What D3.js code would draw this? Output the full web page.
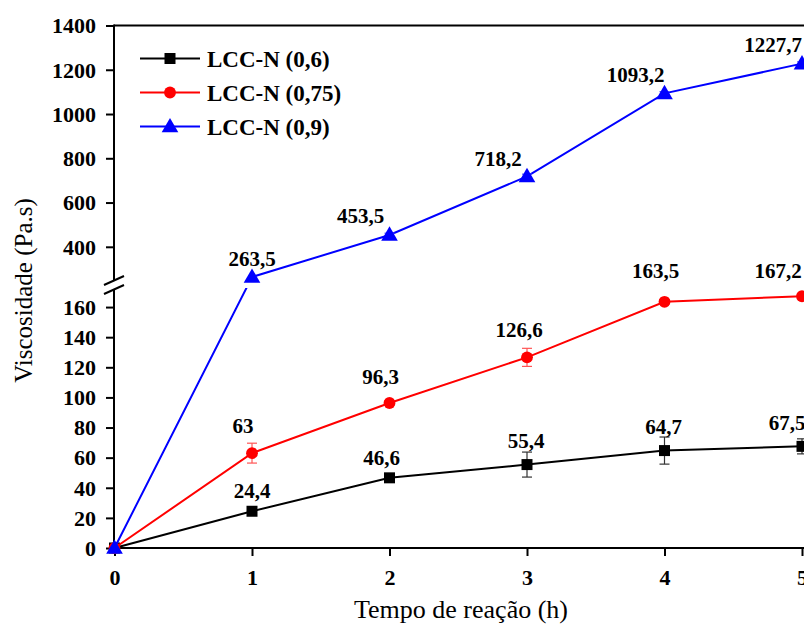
<!DOCTYPE html>
<html>
<head>
<meta charset="utf-8">
<script src="https://cdn.jsdelivr.net/npm/d3@7"></script>
<style>
  html, body { margin: 0; padding: 0; background: #fff; }
  svg { display: block; }
  text { font-family: "Liberation Serif", "Times New Roman", serif; }
</style>
</head>
<body>
<svg id="chart" width="804" height="634"></svg>
<script>
// Reaction time (h)
const hours = [0, 1, 2, 3, 4, 5];
// Viscosity (Pa.s) for each formulation
const seriesNames = ["LCC-N (0,6)", "LCC-N (0,75)", "LCC-N (0,9)"];
const visc06  = [0, 24.4, 46.6, 55.4, 64.7, 67.5];
const visc075 = [0, 63, 96.3, 126.6, 163.5, 167.2];
const visc09  = [0, 263.5, 453.5, 718.2, 1093.2, 1227.7];
// Standard deviations
const err06  = [0, 1, 1.5, 8.3, 9, 5];
const err075 = [0, 6.6, 1.5, 6, 1.5, 1.5];
const err09  = [0, 0, 8, 10, 8, 8];
// Axis ticks
const xTicks = [0, 1, 2, 3, 4, 5];
const yTicksLow = [0, 20, 40, 60, 80, 100, 120, 140, 160];
const yTicksHigh = [400, 600, 800, 1000, 1200, 1400];

// Label nudges [dx, dy above marker] per point
const labelNudge = [
  [[0, 0], [0, 13], [-8, 13], [-1, 17], [-1, 17], [-15, 16]],
  [[0, 0], [-9, 20], [-9, 19], [-8, 20], [-9, 24], [-24, 18]],
  [[0, 0], [0, 11], [-29, 12], [-29, 10], [-29, 11], [-29, 12]]
];

const fmt = v => String(v).replace(".", ",");

const svg = d3.select("#chart");

const x = d3.scaleLinear().domain([0, 5]).range([114.5, 802]);
// Broken y axis: lower and upper segments
const yLow = d3.scaleLinear().domain([0, 172]).range([548, 289]);
const yHigh = d3.scaleLinear().domain([250, 1400]).range([280, 25.5]);
const y = v => (v <= 172 ? yLow(v) : yHigh(v));

const colors = ["#000000", "#ff0000", "#0000ff"];
const errColors = ["#333333", "#ff5555", "#5555ff"];
const symbols = [d3.symbolSquare, d3.symbolCircle, d3.symbolTriangle];
const symSizes = [121, 110, 120];

const series = [visc06, visc075, visc09].map((vals, i) => ({
  name: seriesNames[i],
  color: colors[i],
  errColor: errColors[i],
  symbol: symbols[i],
  size: symSizes[i],
  points: vals.map((v, j) => ({ t: hours[j], v, e: [err06, err075, err09][i][j], j }))
}));

// Clip that leaves the axis break band empty
const defs = svg.append("defs");
const clip = defs.append("clipPath").attr("id", "breakClip");
clip.append("rect").attr("x", 0).attr("y", 0).attr("width", 804).attr("height", 281);
clip.append("rect").attr("x", 0).attr("y", 288).attr("width", 804).attr("height", 400);

const axisColor = "#000";
const plotRight = 812;
const tickFont = 22;

// Frame: top border
svg.append("line").attr("x1", 114).attr("x2", plotRight)
  .attr("y1", 25.5).attr("y2", 25.5)
  .attr("stroke", axisColor).attr("stroke-width", 2);

// X axis
const xAxisG = svg.append("g").attr("transform", "translate(0,548)");
xAxisG.call(d3.axisBottom(x).tickValues(d3.range(0, 5.01, 0.5)).tickSize(5).tickFormat(""));
xAxisG.call(d3.axisBottom(x).tickValues(xTicks).tickSize(8).tickFormat(d3.format("d")));
xAxisG.selectAll(".domain").remove();
xAxisG.selectAll("line").attr("stroke", axisColor).attr("stroke-width", 2);
xAxisG.selectAll("text")
  .attr("y", 37).attr("dy", null)
  .attr("font-size", tickFont).attr("font-weight", "bold").attr("fill", "#000")
  .attr("font-family", "Liberation Serif");
svg.append("line").attr("x1", 113).attr("x2", plotRight)
  .attr("y1", 548).attr("y2", 548)
  .attr("stroke", axisColor).attr("stroke-width", 2);

// Y axis, both segments
function styleY(g) {
  g.selectAll(".domain").remove();
  g.selectAll("line").attr("stroke", axisColor).attr("stroke-width", 2);
  g.selectAll("text")
    .attr("x", -18).attr("dy", "0.33em")
    .attr("font-size", tickFont).attr("font-weight", "bold").attr("fill", "#000")
    .attr("font-family", "Liberation Serif");
}
const yLowG = svg.append("g").attr("transform", "translate(114,0)");
yLowG.call(d3.axisLeft(yLow).tickValues(d3.range(10, 171, 20)).tickSize(5).tickFormat(""));
yLowG.call(d3.axisLeft(yLow).tickValues(yTicksLow).tickSize(8).tickFormat(d3.format("d")));
styleY(yLowG);

const yHighG = svg.append("g").attr("transform", "translate(114,0)");
yHighG.call(d3.axisLeft(yHigh).tickValues(d3.range(300, 1301, 200)).tickSize(5).tickFormat(""));
yHighG.call(d3.axisLeft(yHigh).tickValues(yTicksHigh).tickSize(8).tickFormat(d3.format("d")));
styleY(yHighG);

// Y axis lines on both sides of the break
svg.append("line").attr("x1", 114).attr("x2", 114).attr("y1", 24.5).attr("y2", 280.5)
  .attr("stroke", axisColor).attr("stroke-width", 2);
svg.append("line").attr("x1", 114).attr("x2", 114).attr("y1", 289.5).attr("y2", 549)
  .attr("stroke", axisColor).attr("stroke-width", 2);
// Break marks
[0, 9].forEach(off => {
  svg.append("line")
    .attr("x1", 104).attr("y1", 285 + off)
    .attr("x2", 124).attr("y2", 276 + off)
    .attr("stroke", axisColor).attr("stroke-width", 2);
});

// Series
const line = d3.line().x(d => x(d.t)).y(d => y(d.v));
const plotG = svg.append("g");

series.forEach((s, i) => {
  const g = plotG.append("g");
  g.append("path")
    .datum(s.points)
    .attr("d", line)
    .attr("fill", "none")
    .attr("stroke", s.color)
    .attr("stroke-width", 2)
    .attr("clip-path", "url(#breakClip)");

  // error bars
  const eb = g.selectAll(".eb").data(s.points.filter(p => p.e > 0)).enter().append("g");
  eb.append("line")
    .attr("x1", d => x(d.t)).attr("x2", d => x(d.t))
    .attr("y1", d => y(d.v - d.e)).attr("y2", d => y(d.v + d.e))
    .attr("stroke", s.errColor).attr("stroke-width", 1.2);
  [1, -1].forEach(sgn => {
    eb.append("line")
      .attr("x1", d => x(d.t) - 5).attr("x2", d => x(d.t) + 5)
      .attr("y1", d => y(d.v + sgn * d.e)).attr("y2", d => y(d.v + sgn * d.e))
      .attr("stroke", s.errColor).attr("stroke-width", 1.2);
  });

  g.selectAll(".mk").data(s.points).enter().append("path")
    .attr("d", d3.symbol().type(s.symbol).size(s.size))
    .attr("transform", d => `translate(${x(d.t)},${y(d.v) + (i === 2 ? 1 : 0)})`)
    .attr("fill", s.color);

  // value labels
  g.selectAll(".lbl").data(s.points.filter(p => p.t > 0)).enter().append("text")
    .attr("x", d => x(d.t) + labelNudge[i][d.j][0])
    .attr("y", d => y(d.v) - labelNudge[i][d.j][1])
    .attr("text-anchor", "middle")
    .attr("font-size", 21).attr("font-weight", "bold").attr("fill", "#000")
    .text(d => fmt(d.v));
});

// Legend
const legend = svg.append("g");
series.forEach((s, i) => {
  const ly = 58.5 + i * 34;
  legend.append("line").attr("x1", 140).attr("x2", 200).attr("y1", ly).attr("y2", ly)
    .attr("stroke", s.color).attr("stroke-width", 2);
  legend.append("path")
    .attr("d", d3.symbol().type(s.symbol).size(s.size)())
    .attr("transform", `translate(170,${ly + (i === 2 ? 1 : 0)})`)
    .attr("fill", s.color);
  legend.append("text")
    .attr("x", 207).attr("y", ly + 8.5)
    .attr("font-size", 23).attr("font-weight", "bold").attr("fill", "#000")
    .text(s.name);
});

// Axis titles
svg.append("text")
  .attr("x", 461).attr("y", 618)
  .attr("text-anchor", "middle")
  .attr("font-size", 26).attr("fill", "#000")
  .text("Tempo de reação (h)");

svg.append("text")
  .attr("transform", "translate(32,290.5) rotate(-90)")
  .attr("text-anchor", "middle")
  .attr("font-size", 25).attr("fill", "#000")
  .text("Viscosidade (Pa.s)");
</script>
</body>
</html>
